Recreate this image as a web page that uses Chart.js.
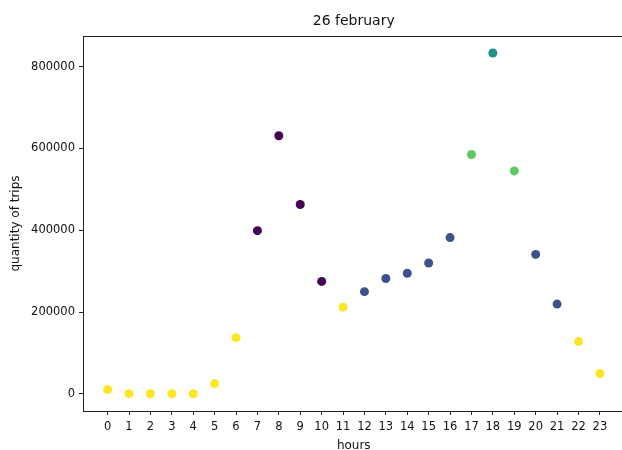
<!DOCTYPE html>
<html>
<head>
<meta charset="utf-8">
<script src="https://cdn.jsdelivr.net/npm/chart.js@4/dist/chart.umd.min.js"></script>
<style>
  html, body { margin: 0; padding: 0; overflow: hidden; background: #fff; }
  #wrap { position: relative; width: 622px; height: 450px; overflow: hidden; }
  #chart { position: absolute; left: 0; top: 0; }
</style>
</head>
<body>
<div id="wrap"><canvas id="chart" width="629" height="456"></canvas></div>
<script>
const hours = [0, 1, 2, 3, 4, 5, 6, 7, 8, 9, 10, 11, 12, 13, 14, 15, 16, 17, 18, 19, 20, 21, 22, 23];
const trips = [10700, 800, 500, 500, 500, 25400, 137600, 399000, 631000, 463000, 275000, 212000,
               250000, 282000, 295000, 320000, 382000, 585000, 833000, 545000, 341000, 219500, 128000, 50000];
// cluster label for each hour
const cluster = [4, 4, 4, 4, 4, 4, 4, 0, 0, 0, 0, 4, 1, 1, 1, 1, 1, 3, 2, 3, 1, 1, 4, 4];
const palette = ['#440154', '#3b528b', '#21918c', '#5ec962', '#fde725'];
const yTicks = [0, 200000, 400000, 600000, 800000];
const titleText = '26 february';

const font = 'DejaVu Sans';

// axes frame + title centred over the plot (like matplotlib)
const frame = {
  id: 'frame',
  afterDatasetsDraw(chart) {
    const { ctx, chartArea: a } = chart;
    ctx.save();
    ctx.strokeStyle = '#222';
    ctx.lineWidth = 1;
    ctx.strokeRect(a.left + 0.5, a.top + 0.5, a.right - a.left, a.bottom - a.top);
    ctx.fillStyle = '#111';
    ctx.font = `14px "${font}"`;
    ctx.textAlign = 'center';
    ctx.textBaseline = 'middle';
    ctx.fillText(titleText, (a.left + a.right) / 2, 21);
    ctx.restore();
  }
};

new Chart(document.getElementById('chart'), {
  type: 'scatter',
  data: {
    datasets: [{
      data: hours.map((h, i) => ({ x: h, y: trips[i] })),
      backgroundColor: cluster.map(c => palette[c]),
      borderWidth: 0,
      pointRadius: 4.5,
      pointHoverRadius: 4.5
    }]
  },
  options: {
    responsive: false,
    animation: false,
    layout: { padding: { left: 0, right: 0, top: 36, bottom: 0 } },
    plugins: {
      legend: { display: false },
      tooltip: { enabled: false },
      title: { display: false }
    },
    scales: {
      x: {
        type: 'linear',
        min: -1.15,
        max: 24.15,
        afterBuildTicks: s => { s.ticks = hours.map(v => ({ value: v })); },
        afterFit: s => { s.height = 45; s.paddingLeft = 0; s.paddingRight = 0; },
        border: { display: false },
        grid: { drawOnChartArea: false, drawTicks: true, tickLength: 4, color: '#222' },
        ticks: { color: '#111', padding: 5, autoSkip: false, maxRotation: 0,
                 font: { family: font, size: 11.5 } },
        title: { display: true, text: 'hours', color: '#111',
                 font: { family: font, size: 12 }, padding: { top: 0, bottom: 2.8 } }
      },
      y: {
        type: 'linear',
        min: -41650,
        max: 874650,
        afterBuildTicks: s => { s.ticks = yTicks.map(v => ({ value: v })); },
        afterFit: s => { s.width = 83; s.paddingTop = 0; s.paddingBottom = 0; },
        border: { display: false },
        grid: { drawOnChartArea: false, drawTicks: true, tickLength: 4, color: '#222' },
        ticks: { color: '#111', padding: 4, callback: v => String(v),
                 font: { family: font, size: 11.5 } },
        title: { display: true, text: 'quantity of trips', color: '#111',
                 font: { family: font, size: 12 }, padding: { top: 8.8, bottom: 0 } }
      }
    }
  },
  plugins: [frame]
});
</script>
</body>
</html>
